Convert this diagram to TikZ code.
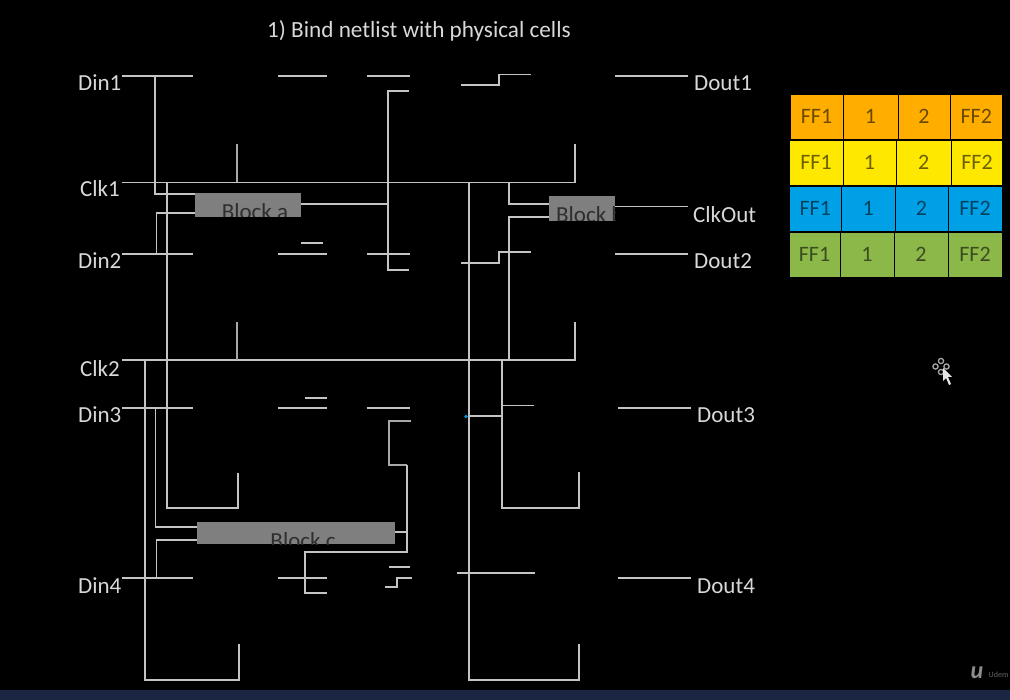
\documentclass[tikz,border=0pt]{standalone}
\usepackage{fontspec}
\setmainfont{Carlito}
\definecolor{wire}{HTML}{C4C4C4}
\definecolor{wiredim}{HTML}{A8A8A8}
\definecolor{lbl}{HTML}{D8D8D8}
\definecolor{blockgrey}{HTML}{7F7F7F}
\definecolor{blocktext}{HTML}{2E2E2E}
\definecolor{corange}{HTML}{FFAE00}
\definecolor{cyellow}{HTML}{FFE800}
\definecolor{cblue}{HTML}{00A0E6}
\definecolor{cgreen}{HTML}{8CB84A}
\definecolor{barblue}{HTML}{1A2642}
\tikzset{
 wirea/.style={draw=wire,line width=1.2pt},
 wireb/.style={draw=wiredim,line width=1.5pt},
 lab/.style={text=lbl,font=\fontsize{23}{23}\selectfont,inner sep=0pt,anchor=west},
 blk/.style={fill=blockgrey,draw=none},
 blktxt/.style={text=blocktext,font=\fontsize{23}{23}\selectfont,inner sep=0pt,anchor=base},
 cell/.style={draw=black,line width=0.8pt},
 celltxt/.style={font=\fontsize{22}{22}\selectfont,inner sep=0pt},
}
\newcommand{\cellbox}[7]{% x0 y0 x1 y1 fill text name
 \filldraw[cell,fill=#5] (#1,#2) rectangle (#3,#4);
 \node[celltxt,text=#5!42!black] (#7) at ({(#1+#3)/2},{(#2+#4)/2}) {#6};
}
\begin{document}
\begin{tikzpicture}[x=1pt,y=-1pt]
\useasboundingbox (0,0) rectangle (1010,700);
\fill[black] (0,0) rectangle (1010,700);
\fill[barblue] (0,690) rectangle (1010,700);

\node[text=lbl,font=\fontsize{23.2}{23.2}\selectfont,inner sep=0pt,anchor=base west] (title) at (267,38) {1) Bind netlist with physical cells};

% labels
\node[lab] (din1) at (78,83) {Din1};
\node[lab] (clk1) at (80,189) {Clk1};
\node[lab] (din2) at (78,261) {Din2};
\node[lab] (clk2) at (80,369) {Clk2};
\node[lab] (din3) at (78,415) {Din3};
\node[lab] (din4) at (78,586) {Din4};
\node[lab] (dout1) at (694,83) {Dout1};
\node[lab] (clkout) at (693,215) {ClkOut};
\node[lab] (dout2) at (694,261) {Dout2};
\node[lab] (dout3) at (697,415) {Dout3};
\node[lab] (dout4) at (697,586) {Dout4};

% blocks with clipped labels
\fill[blk] (195,193) rectangle (301,217);
\begin{scope}\clip (195,193) rectangle (301,217);
\node[blktxt] (blocka) at (255,220) {Block a};\end{scope}
\fill[blk] (549,196) rectangle (615,221);
\begin{scope}\clip (549,196) rectangle (615,221);
\node[blktxt,anchor=base west] (blockb) at (556,223) {Block b};\end{scope}
\fill[blk] (197,522) rectangle (394.5,544);
\begin{scope}\clip (197,522) rectangle (394.5,544);
\node[blktxt] (blockc) at (303,548) {Block c};\end{scope}

% straight segments
\foreach \y in {76,254,408,578}{
 \draw[wirea] (122,\y) -- (193,\y);
 \draw[wirea] (277.5,\y) -- (326.5,\y);
}
\foreach \y in {76,254,408}{\draw[wirea] (366.5,\y) -- (410,\y);}
\foreach \y in {76,254}{\draw[wirea] (615,\y) -- (688,\y);}
\foreach \y in {408,578}{\draw[wirea] (618,\y) -- (691,\y);}
\draw[wirea] (301,243) -- (323,243);
\draw[wirea] (305,398) -- (327,398);
\draw[wirea] (389,567) -- (410,567);
\draw[wirea] (457,573) -- (535,573);
\draw[wirea] (502,405.5) -- (534,405.5);
\draw[wirea] (469,416) -- (502,416);
\fill[cyan!80!blue] (466,416.5) circle (1.8);

% clock trunks
\draw[wirea] (122,182.5) -- (575,182.5) -- (575,144);
\draw[wireb] (237,144) -- (237,182.5);
\draw[wirea] (122,360) -- (575,360) -- (575,322);
\draw[wireb] (237,322) -- (237,360);

% Din1 / Din2 to block a
\draw[wirea] (155,76) -- (155,194) -- (195,194);
\draw[wirea] (195,213) -- (156.5,213) -- (156.5,254);
% clock to flops
\draw[wirea] (167,182.5) -- (167,508) -- (238,508) -- (238,473);
\draw[wirea] (145,360) -- (145,680) -- (239,680) -- (239,644);
\draw[wirea] (469,182.5) -- (469,680) -- (579,680) -- (579,644);
\draw[wirea] (502,360) -- (502,508) -- (579,508) -- (579,472.5);
% block a output
\draw[wirea] (301,204) -- (388,204);
\draw[wirea] (409,91) -- (388,91) -- (388,270) -- (409,270);
% steps
\draw[wirea] (461,85) -- (499,85) -- (499,74.5) -- (531,74.5);
\draw[wirea] (461,263) -- (499,263) -- (499,252) -- (531,252);
\draw[wirea] (385,587) -- (397,587) -- (397,578) -- (412,578);
% block b
\draw[wirea] (509,182.5) -- (509,204) -- (549,204);
\draw[wirea] (549,217) -- (509,217) -- (509,360);
\draw[wirea] (615,206.5) -- (688,206.5);
% block c
\draw[wirea] (155.5,408) -- (155.5,527) -- (197,527);
\draw[wirea] (197,540) -- (156.5,540) -- (156.5,578);
\draw[wirea] (394.5,532) -- (407,532);
\draw[wireb] (411,421) -- (389,421) -- (389,465) -- (407,465);
\draw[wirea] (407,465) -- (407,552) -- (305,552) -- (305,593) -- (327,593);

% table
\cellbox{790}{94}{843}{139}{corange}{FF1}{a1}
\cellbox{843}{94}{898}{139}{corange}{1}{a2}
\cellbox{898}{94}{950}{139}{corange}{2}{a3}
\cellbox{950}{94}{1002.5}{139}{corange}{FF2}{a4}
\cellbox{789}{140}{843}{185}{cyellow}{FF1}{b1}
\cellbox{843}{140}{896}{185}{cyellow}{1}{b2}
\cellbox{896}{140}{951.5}{185}{cyellow}{2}{b3}
\cellbox{951.5}{140}{1002.5}{185}{cyellow}{FF2}{b4}
\cellbox{789}{186}{841.5}{231}{cblue}{FF1}{c1}
\cellbox{841.5}{186}{895}{231}{cblue}{1}{c2}
\cellbox{895}{186}{948}{231}{cblue}{2}{c3}
\cellbox{948}{186}{1002}{231}{cblue}{FF2}{c4}
\cellbox{789}{232}{840}{277}{cgreen}{FF1}{d1}
\cellbox{840}{232}{894}{277}{cgreen}{1}{d2}
\cellbox{894}{232}{948}{277}{cgreen}{2}{d3}
\cellbox{948}{232}{1002}{277}{cgreen}{FF2}{d4}

% mouse pointer
\foreach \p in {(941,361),(935.5,366.5),(946.5,366.5),(941,372)}{
 \draw[white!65!black,line width=1.3pt] \p circle (2.6);
}
\fill[white!90!black] (943,368) -- (943,381) -- (946,378) -- (949,385) -- (951,384) -- (948,377) -- (952,377) -- cycle;

% watermark
\node[text=white!55!black,font=\itshape\bfseries\fontsize{24}{24}\selectfont,inner sep=0pt] (logo) at (977,673) {u};
\node[text=white!40!black,font=\fontsize{8}{8}\selectfont,inner sep=0pt,anchor=west] (udemy) at (988.5,675) {Udem};
\end{tikzpicture}
\end{document}
